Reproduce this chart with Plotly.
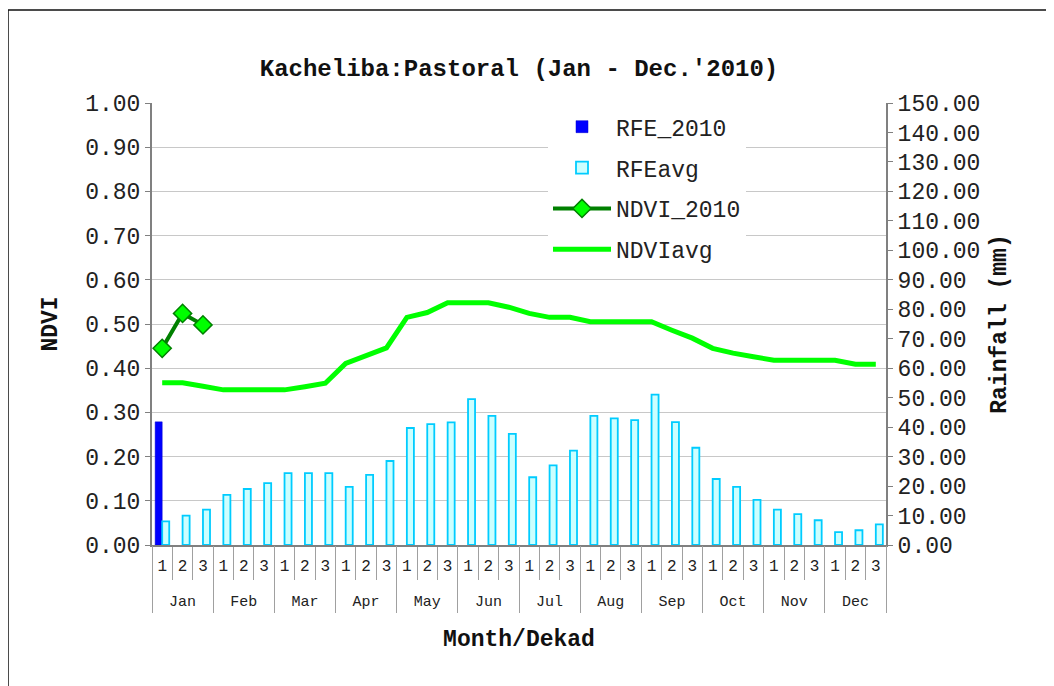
import plotly.graph_objects as go

months = ["Jan", "Feb", "Mar", "Apr", "May", "Jun", "Jul", "Aug", "Sep", "Oct", "Nov", "Dec"]
dekads = ["1", "2", "3"]

rfe_avg = [8, 10, 12, 17, 19, 21, 24.4, 24.4, 24.4, 19.7, 23.8, 28.5,
           39.7, 41, 41.6, 49.5, 43.8, 37.7, 23, 27, 32, 43.8, 43, 42.4,
           51, 41.7, 33, 22.4, 19.7, 15.3, 12, 10.5, 8.4, 4.4, 5, 7]
rfe_2010 = [41.8] + [None] * 35
ndvi_avg = [0.367, 0.367, 0.359, 0.351, 0.351, 0.351, 0.351, 0.358, 0.366, 0.411, 0.430, 0.446,
            0.515, 0.526, 0.548, 0.548, 0.548, 0.538, 0.524, 0.515, 0.515, 0.505, 0.505, 0.505,
            0.505, 0.486, 0.468, 0.445, 0.434, 0.426, 0.418, 0.418, 0.418, 0.418, 0.409, 0.409]
ndvi_2010 = [0.445, 0.524, 0.498] + [None] * 33

n = len(months) * len(dekads)
xs = list(range(n))
dekad_labels = [d for m in months for d in dekads]
month_centers = [i * 3 + 1 for i in range(len(months))]

FONT = "Liberation Mono, Courier New, monospace"
GRAY = "#808080"

# page offsets (browser body margin of 8px)
W, H = 1046, 678
L, R, T, B = 144, 168, 95, 141
PW, PH = W - L - R, H - T - B

fig = go.Figure()
fig.add_trace(go.Bar(x=xs, y=rfe_2010, name="RFE_2010", yaxis="y2",
                     marker=dict(color="#0000FF", line=dict(color="#0000CC", width=0.5)),
                     legendgroup="a"))
fig.add_trace(go.Bar(x=xs, y=rfe_avg, name="RFEavg", yaxis="y2",
                     marker=dict(color="#CCFFFF", line=dict(color="#00CCFF", width=1.8)),
                     legendgroup="b"))
fig.add_trace(go.Scatter(x=xs, y=ndvi_2010, name="NDVI_2010", mode="lines+markers",
                         line=dict(color="#008000", width=4),
                         marker=dict(symbol="diamond", size=14, color="#00FF00",
                                     line=dict(color="#008000", width=1.5)),
                         legendgroup="c"))
fig.add_trace(go.Scatter(x=xs, y=ndvi_avg, name="NDVIavg", mode="lines",
                         line=dict(color="#00FF00", width=5), legendgroup="d"))
# carrier for month axis
fig.add_trace(go.Scatter(x=month_centers, y=[None] * len(months), xaxis="x2",
                         showlegend=False, hoverinfo="skip"))

fig.update_layout(
    width=W, height=H,
    margin=dict(l=L, r=R, t=T, b=B),
    paper_bgcolor="white", plot_bgcolor="white",
    font=dict(family=FONT, size=23, color="#222222"),
    title=dict(text="Kacheliba:Pastoral (Jan - Dec.'2010)", x=0.5, xref="paper",
               y=1 - 60 / H, yref="container", yanchor="middle",
               font=dict(family=FONT, size=24, color="#111111", weight="bold")),
    barmode="group", bargap=0.31, bargroupgap=0,
    showlegend=True,
    legend=dict(x=(548 - 152) / PW, y=0.995, xanchor="left", yanchor="top", bgcolor="white",
                font=dict(family=FONT, size=23, color="#222222"),
                traceorder="grouped", tracegroupgap=8, itemwidth=58),
    xaxis=dict(range=[-0.5, n - 0.5], tickmode="array", tickvals=xs, ticktext=dekad_labels,
               ticks="", showgrid=False, zeroline=False,
               showline=True, linecolor=GRAY, linewidth=2,
               tickfont=dict(family=FONT, size=16, color="#222222"),
               ticklabelstandoff=5,
               minor=dict(tickmode="array", tickvals=[i - 0.5 for i in range(n + 1)],
                          ticks="outside", ticklen=33, tickcolor="#A0A0A0", tickwidth=1),
               title=dict(text="Month/Dekad", standoff=55,
                          font=dict(family=FONT, size=23, color="#111111", weight="bold"))),
    xaxis2=dict(overlaying="x", anchor="y", side="bottom", range=[-0.5, n - 0.5],
                tickmode="array", tickvals=month_centers, ticktext=months,
                ticks="", showgrid=False, zeroline=False, showline=False,
                tickfont=dict(family=FONT, size=15, color="#222222"),
                ticklabelstandoff=45,
                minor=dict(tickmode="array", tickvals=[i * 3 - 0.5 for i in range(len(months) + 1)],
                           ticks="outside", ticklen=67, tickcolor="#A0A0A0", tickwidth=1)),
    yaxis=dict(range=[0, 1], dtick=0.1, tickformat=".2f", ticks="outside", ticklen=5,
               tickcolor=GRAY, showgrid=True, gridcolor="#C8C8C8", gridwidth=1,
               zeroline=False, showline=True, linecolor=GRAY, linewidth=2,
               tickfont=dict(family=FONT, size=23, color="#222222"),
               title=dict(text="NDVI", standoff=21,
                          font=dict(family=FONT, size=23, color="#111111", weight="bold"))),
    yaxis2=dict(range=[0, 150], dtick=10, tickformat=".2f", overlaying="y", side="right",
                ticks="outside", ticklen=5, tickcolor=GRAY, showgrid=False, zeroline=False,
                showline=True, linecolor=GRAY, linewidth=2,
                tickfont=dict(family=FONT, size=23, color="#222222"),
                title=dict(text="Rainfall (mm)", standoff=10,
                           font=dict(family=FONT, size=23, color="#111111", weight="bold"))),
    shapes=[dict(type="rect", xref="paper", yref="paper",
                 x0=(8 - 152) / PW, x1=(1062 - 152) / PW,
                 y0=(545 - 700) / PH, y1=(545 - 10) / PH,
                 line=dict(color="#111111", width=1.5), fillcolor="rgba(0,0,0,0)",
                 layer="below")],
)

fig.write_html("out.html")
